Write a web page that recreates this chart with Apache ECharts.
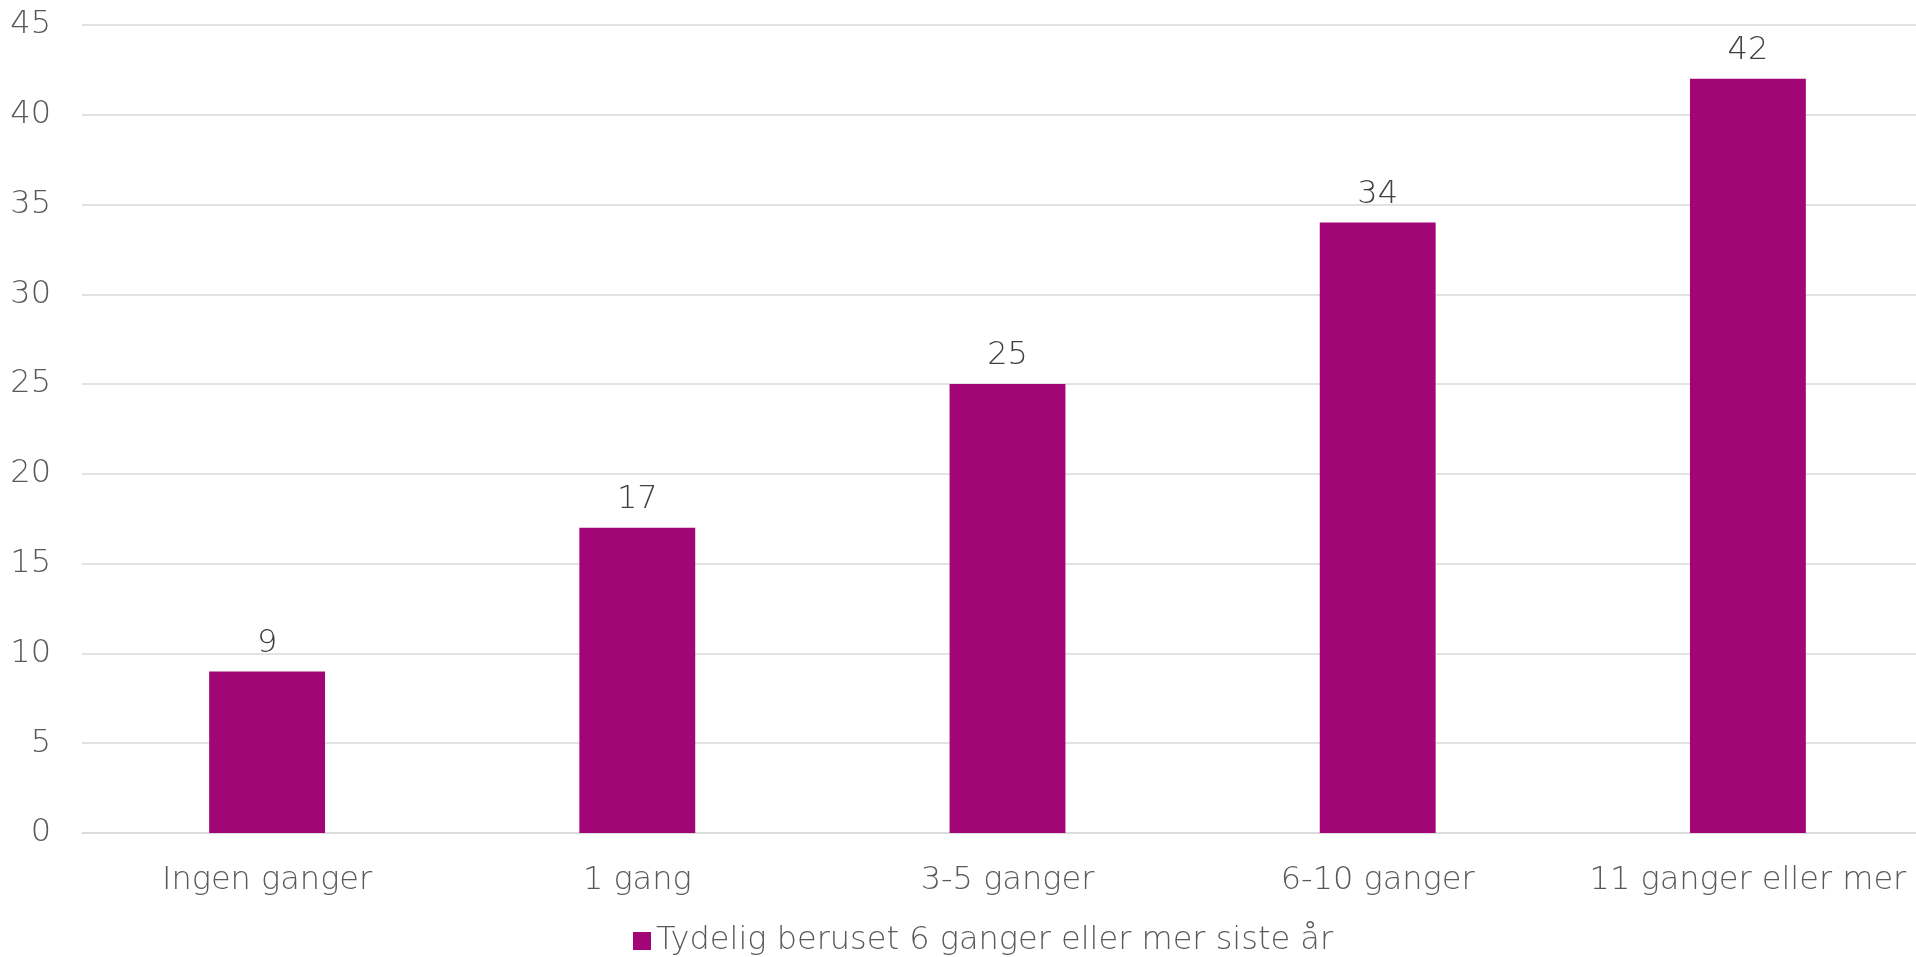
<!DOCTYPE html>
<html><head><meta charset="utf-8">
<script src="https://cdn.jsdelivr.net/npm/echarts@6/dist/echarts.min.js"></script>
<style>html,body{margin:0;padding:0;background:#fff;overflow:hidden}#c{width:1933px;height:957px}</style>
</head><body><div id="c"></div>
<script>
const categories = ['Ingen ganger', '1 gang', '3-5 ganger', '6-10 ganger', '11 ganger eller mer'];
const values = [9, 17, 25, 34, 42];
const seriesName = 'Tydelig beruset 6 ganger eller mer siste år';
const yTicks = { min: 0, max: 45, interval: 5 };

const font = 'DejaVu Sans';
const txt = '#595959';
const chart = echarts.init(document.getElementById('c'));
chart.setOption({
  animation: false,
  grid: { left: 82, right: 0, top: 25, height: 808, containLabel: false },
  legend: {
    bottom: -5, left: 628, itemWidth: 18, itemHeight: 18, itemGap: 8,
    icon: 'rect',
    textStyle: { fontFamily: font, fontWeight: 200, fontSize: 32, color: txt }
  },
  xAxis: {
    type: 'category', data: categories,
    axisLine: { lineStyle: { color: '#d9d9d9', width: 1.5 } },
    axisTick: { show: false },
    axisLabel: { interval: 0, margin: 32, fontFamily: font, fontWeight: 200, fontSize: 32, color: txt }
  },
  yAxis: {
    type: 'value', min: yTicks.min, max: yTicks.max, interval: yTicks.interval,
    axisLine: { show: false }, axisTick: { show: false },
    splitLine: { lineStyle: { color: '#d9d9d9', width: 1.5 } },
    axisLabel: { margin: 31, fontFamily: font, fontWeight: 200, fontSize: 32, color: txt }
  },
  series: [{
    name: seriesName, type: 'bar', data: values, barWidth: '31.3%',
    itemStyle: { color: '#a20576' },
    label: { show: true, position: 'top', distance: 12, fontFamily: font, fontWeight: 200, fontSize: 32, color: '#404040' }
  }]
});
</script></body></html>
